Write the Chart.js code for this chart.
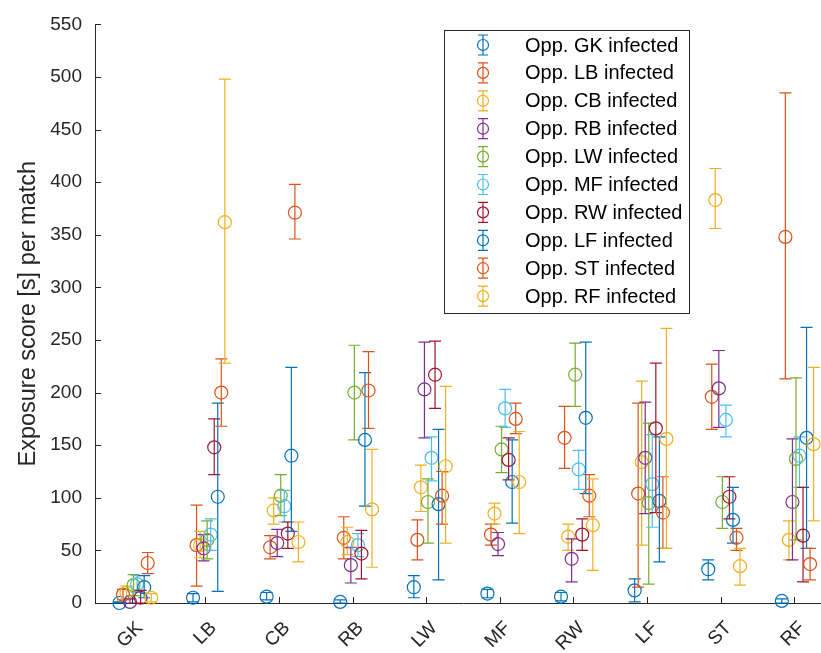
<!DOCTYPE html>
<html><head><meta charset="utf-8">
<script src="https://cdn.jsdelivr.net/npm/chart.js@4.4.0/dist/chart.umd.min.js"></script>
<style>
html,body{margin:0;padding:0;background:#fff;overflow:hidden;}
#wrap{width:845px;height:653px;}
</style></head><body>
<div id="wrap"><canvas id="c" width="845" height="653"></canvas></div>
<script>
const categories = ['GK','LB','CB','RB','LW','MF','RW','LF','ST','RF'];
const seriesNames = ['Opp. GK infected','Opp. LB infected','Opp. CB infected','Opp. RB infected','Opp. LW infected','Opp. MF infected','Opp. RW infected','Opp. LF infected','Opp. ST infected','Opp. RF infected'];
const seriesColors = ['#0072BD','#D95319','#EDB120','#7E2F8E','#77AC30','#4DBEEE','#A2142F','#0072BD','#D95319','#EDB120'];
const yTicks = [0,50,100,150,200,250,300,350,400,450,500,550];

// mean, lower and upper error-bar ends, per category (GK..RF)
const meanOppGK = [0, 5, 6, 1, 15, 9, 6, 12, 32, 2];
const lowOppGK  = [0, 1, 3, 0, 5, 5, 2, 1, 22, 0];
const highOppGK = [1, 9, 10, 3, 26, 13, 10, 23, 41, 4];

const meanOppLB = [8, 55, 53, 62, 60, 65, 157, 104, 196, 348];
const lowOppLB  = [3, 16, 42, 42, 41, 55, 128, 15, 165, 213];
const highOppLB = [13, 93, 64, 82, 79, 75, 187, 190, 227, 485];

const meanOppCB = [10, 55, 88, 58, 110, 85, 63, 134, 383, 60];
const lowOppCB  = [4, 43, 75, 46, 87, 75, 50, 55, 356, 41];
const highOppCB = [16, 68, 100, 72, 131, 95, 75, 211, 413, 78];

const meanOppRB = [1, 52, 57, 36, 203, 56, 42, 138, 204, 96];
const lowOppRB  = [0, 40, 44, 19, 157, 45, 20, 85, 167, 41];
const highOppRB = [4, 65, 70, 53, 248, 67, 61, 191, 240, 156];

const meanOppLW = [17, 60, 102, 200, 96, 146, 217, 95, 96, 137];
const lowOppLW  = [7, 42, 83, 155, 57, 124, 187, 18, 71, 60];
const highOppLW = [27, 78, 122, 245, 118, 168, 247, 171, 120, 214];

const meanOppMF = [18, 65, 92, 55, 138, 185, 127, 113, 174, 140];
const lowOppMF  = [10, 50, 77, 44, 116, 167, 108, 72, 158, 110];
const highOppMF = [26, 80, 107, 66, 158, 203, 145, 160, 188, 158];

const meanOppRW = [5, 148, 66, 47, 217, 136, 65, 166, 101, 64];
const lowOppRW  = [0, 122, 52, 23, 185, 117, 50, 86, 80, 20];
const highOppRW = [12, 175, 77, 69, 249, 157, 80, 228, 120, 110];

const meanOppLF = [15, 101, 140, 155, 94, 115, 176, 97, 79, 157];
const lowOppLF  = [5, 11, 68, 92, 22, 76, 104, 39, 57, 52];
const highOppLF = [26, 190, 224, 219, 165, 155, 248, 158, 110, 262];

const meanOppST = [38, 200, 371, 202, 102, 175, 102, 86, 62, 37];
const lowOppST  = [28, 168, 346, 166, 75, 161, 82, 52, 50, 22];
const highOppST = [48, 232, 398, 239, 125, 190, 122, 120, 71, 52];

const meanOppRF = [5, 362, 58, 89, 130, 115, 74, 156, 35, 151];
const lowOppRF  = [1, 228, 39, 34, 57, 66, 31, 52, 17, 78];
const highOppRF = [9, 498, 77, 146, 206, 163, 118, 261, 52, 224];

const allMeans = [meanOppGK, meanOppLB, meanOppCB, meanOppRB, meanOppLW, meanOppMF, meanOppRW, meanOppLF, meanOppST, meanOppRF];
const allLows  = [lowOppGK, lowOppLB, lowOppCB, lowOppRB, lowOppLW, lowOppMF, lowOppRW, lowOppLF, lowOppST, lowOppRF];
const allHighs = [highOppGK, highOppLB, highOppCB, highOppRB, highOppLW, highOppMF, highOppRW, highOppLF, highOppST, highOppRF];

const FONT = "'Liberation Sans', Arial, sans-serif";
const AX = '#262626';

const datasets = seriesNames.map((name, s) => ({
  label: name,
  data: categories.map((c, i) => ({
    x: i + 1 + (s - 3.5) * 0.048,
    y: allMeans[s][i],
    yMin: allLows[s][i],
    yMax: allHighs[s][i]
  })),
  borderColor: seriesColors[s],
  backgroundColor: 'rgba(0,0,0,0)',
  pointStyle: 'circle',
  pointRadius: 6.5,
  pointHoverRadius: 6.5,
  pointBorderWidth: 1.2,
  showLine: false,
  clip: false,
  order: 10 - s
}));

const errorBars = {
  id: 'errorBars',
  afterDatasetDraw(chart, args) {
    const ds = chart.data.datasets[args.index];
    const xs = chart.scales.x, ys = chart.scales.y;
    const ctx = chart.ctx;
    ctx.save();
    ctx.strokeStyle = ds.borderColor;
    ctx.lineWidth = 1.2;
    ds.data.forEach(p => {
      const px = xs.getPixelForValue(p.x);
      const y1 = ys.getPixelForValue(p.yMin);
      const y2 = ys.getPixelForValue(p.yMax);
      const cw = 6;
      ctx.beginPath();
      ctx.moveTo(px, y1); ctx.lineTo(px, y2);
      ctx.moveTo(px - cw, y1); ctx.lineTo(px + cw, y1);
      ctx.moveTo(px - cw, y2); ctx.lineTo(px + cw, y2);
      ctx.stroke();
    });
    ctx.restore();
  }
};

const innerTicks = {
  id: 'innerTicks',
  afterDraw(chart) {
    const ctx = chart.ctx, xs = chart.scales.x, ys = chart.scales.y;
    const a = chart.chartArea;
    ctx.save();
    ctx.strokeStyle = AX; ctx.lineWidth = 1;
    ctx.beginPath();
    xs.ticks.forEach(t => {
      const px = Math.round(xs.getPixelForValue(t.value)) + 0.5;
      ctx.moveTo(px, a.bottom); ctx.lineTo(px, a.bottom - 6);
    });
    ys.ticks.forEach(t => {
      const py = Math.round(ys.getPixelForValue(t.value)) + 0.5;
      ctx.moveTo(a.left, py); ctx.lineTo(a.left + 6, py);
    });
    ctx.stroke();
    ctx.restore();
  }
};

const boxLegend = {
  id: 'boxLegend',
  afterDraw(chart) {
    const ctx = chart.ctx;
    const bx = 444.5, by = 30.5, bw = 245, bh = 283;
    ctx.save();
    ctx.fillStyle = '#fff';
    ctx.fillRect(bx, by, bw, bh);
    ctx.strokeStyle = AX; ctx.lineWidth = 1;
    ctx.strokeRect(bx, by, bw, bh);
    ctx.font = '20px ' + FONT;
    ctx.textBaseline = 'middle';
    ctx.textAlign = 'left';
    chart.data.datasets.forEach((ds, i) => {
      const cy = 45 + i * 27.9;
      const sx = 483;
      ctx.strokeStyle = ds.borderColor;
      ctx.lineWidth = 1.2;
      ctx.beginPath();
      ctx.moveTo(sx, cy - 10); ctx.lineTo(sx, cy + 10);
      ctx.moveTo(sx - 5, cy - 10); ctx.lineTo(sx + 5, cy - 10);
      ctx.moveTo(sx - 5, cy + 10); ctx.lineTo(sx + 5, cy + 10);
      ctx.stroke();
      ctx.beginPath();
      ctx.arc(sx, cy, 5.5, 0, Math.PI * 2);
      ctx.stroke();
      ctx.fillStyle = '#000';
      ctx.fillText(ds.label, 525, cy + 1);
    });
    ctx.restore();
  }
};

new Chart(document.getElementById('c'), {
  type: 'scatter',
  data: { datasets },
  plugins: [errorBars, innerTicks, boxLegend],
  options: {
    responsive: false,
    animation: false,
    devicePixelRatio: 1,
    layout: { padding: { left: 0, right: 14, top: 23, bottom: 0 } },
    plugins: { legend: { display: false }, tooltip: { enabled: false } },
    scales: {
      x: {
        type: 'linear', min: 0.5, max: 10.5,
        afterBuildTicks: sc => { sc.ticks = categories.map((c, i) => ({ value: i + 1 })); },
        afterFit: sc => { sc.height = 50; },
        grid: { display: false, drawTicks: false },
        border: { display: true, color: AX, width: 1 },
        ticks: {
          autoSkip: false, minRotation: 45, maxRotation: 45,
          padding: 14, labelOffset: 8,
          color: AX, font: { family: FONT, size: 19 },
          callback: v => categories[Math.round(v) - 1]
        }
      },
      y: {
        min: 0, max: 550,
        afterBuildTicks: sc => { sc.ticks = yTicks.map(v => ({ value: v })); },
        afterFit: sc => { sc.width = 95; },
        grid: { display: false, drawTicks: false },
        border: { display: true, color: AX, width: 1 },
        ticks: { padding: 13, color: AX, font: { family: FONT, size: 19 } },
        title: {
          display: true, text: 'Exposure score [s] per match',
          color: AX, font: { family: FONT, size: 23.5 }, padding: { top: 14, bottom: 0 }
        }
      }
    }
  }
});
</script>
</body></html>
